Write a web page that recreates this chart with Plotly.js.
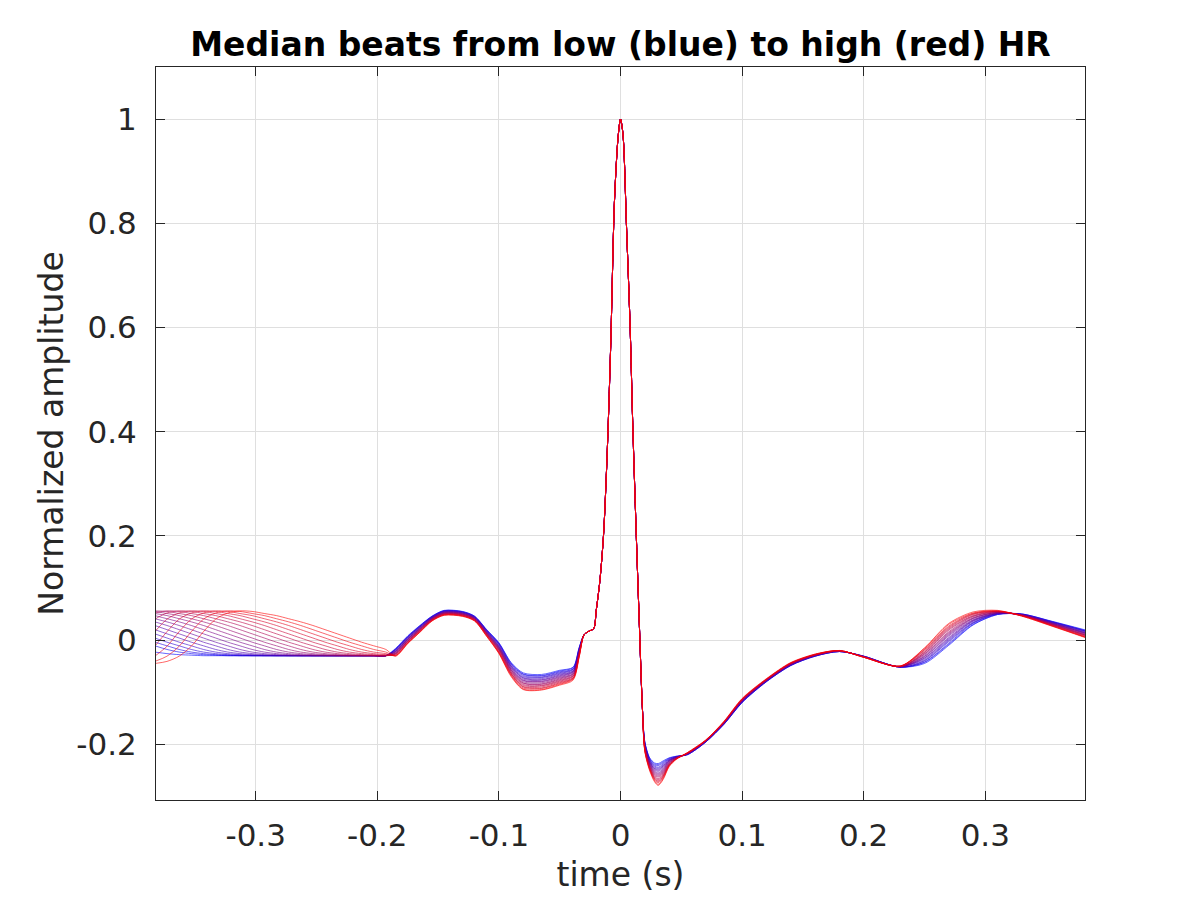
<!DOCTYPE html>
<html>
<head>
<meta charset="utf-8">
<script src="https://cdn.plot.ly/plotly-3.0.1.min.js"></script>
<style>
  html, body { margin: 0; padding: 0; background: #fff; }
  #chart { width: 1200px; height: 900px; }
</style>
</head>
<body>
<div id="chart"></div>
<script>
// previous beat's T wave, sampled every 10 ms from t = -0.383 s
const tWave = [-0.045, -0.041, -0.031, -0.012, 0.016, 0.040, 0.052, 0.056, 0.055, 0.051,
               0.047, 0.041, 0.035, 0.028, 0.020, 0.012, 0.004, -0.004, -0.011, -0.018,
               -0.023, -0.026, -0.028, -0.029, -0.030, -0.030, -0.030, -0.030, -0.030, -0.030,
               -0.030, -0.030, -0.030, -0.030, -0.030, -0.030, -0.030, -0.030, -0.030, -0.030]
// how far (in 10 ms samples) that T wave sits left of the window, low HR -> high HR
const tWaveLag = [20, 18, 17, 16, 15, 14, 13, 12, 11, 10, 9, 8, 7, 6, 5, 4, 3, 2, 1, 0]

const preTime = [-0.383, -0.373, -0.363, -0.353, -0.343, -0.333, -0.323, -0.313, -0.303, -0.293,
                 -0.283, -0.273, -0.263, -0.253, -0.243, -0.233, -0.223, -0.213, -0.203, -0.193]

const midTime = [-0.185, -0.175, -0.165, -0.155, -0.145, -0.130, -0.120, -0.110, -0.100, -0.090,
                 -0.080, -0.065, -0.050, -0.039, -0.034]
const midBeats = [
    [-0.016, 0.008, 0.028, 0.046, 0.057, 0.055, 0.046, 0.020, -0.005, -0.043, -0.063, -0.066, -0.058, -0.052, -0.014],
    [-0.017, 0.007, 0.027, 0.0455, 0.0565, 0.0545, 0.0455, 0.019, -0.006, -0.044, -0.065, -0.068, -0.0595, -0.053, -0.015],
    [-0.018, 0.006, 0.027, 0.045, 0.056, 0.054, 0.045, 0.019, -0.007, -0.046, -0.066, -0.069, -0.061, -0.055, -0.016],
    [-0.018, 0.006, 0.026, 0.0445, 0.0555, 0.0535, 0.0445, 0.018, -0.008, -0.047, -0.068, -0.071, -0.0625, -0.056, -0.017],
    [-0.019, 0.005, 0.025, 0.044, 0.055, 0.053, 0.044, 0.017, -0.009, -0.049, -0.070, -0.072, -0.064, -0.057, -0.018],
    [-0.020, 0.004, 0.025, 0.0435, 0.0545, 0.0525, 0.0435, 0.017, -0.011, -0.050, -0.072, -0.074, -0.0655, -0.059, -0.019],
    [-0.021, 0.003, 0.024, 0.043, 0.054, 0.052, 0.043, 0.016, -0.012, -0.051, -0.073, -0.076, -0.067, -0.060, -0.020],
    [-0.022, 0.002, 0.023, 0.0425, 0.0535, 0.0515, 0.0425, 0.015, -0.013, -0.053, -0.075, -0.077, -0.0685, -0.061, -0.021],
    [-0.022, 0.002, 0.022, 0.042, 0.053, 0.051, 0.042, 0.014, -0.014, -0.054, -0.077, -0.079, -0.070, -0.062, -0.022],
    [-0.023, 0.001, 0.022, 0.0415, 0.0525, 0.0505, 0.0415, 0.014, -0.015, -0.056, -0.078, -0.080, -0.0715, -0.064, -0.023],
    [-0.024, 0.000, 0.021, 0.041, 0.052, 0.050, 0.041, 0.013, -0.016, -0.057, -0.080, -0.082, -0.073, -0.065, -0.024],
    [-0.025, -0.001, 0.020, 0.0405, 0.0515, 0.0495, 0.0405, 0.012, -0.017, -0.058, -0.082, -0.084, -0.0745, -0.066, -0.025],
    [-0.026, -0.002, 0.020, 0.040, 0.051, 0.049, 0.040, 0.012, -0.018, -0.060, -0.083, -0.085, -0.076, -0.068, -0.026],
    [-0.026, -0.002, 0.019, 0.0395, 0.0505, 0.0485, 0.0395, 0.011, -0.019, -0.061, -0.085, -0.087, -0.0775, -0.069, -0.027],
    [-0.027, -0.003, 0.018, 0.039, 0.050, 0.048, 0.039, 0.010, -0.020, -0.063, -0.087, -0.088, -0.079, -0.070, -0.028],
    [-0.028, -0.004, 0.018, 0.0385, 0.0495, 0.0475, 0.0385, 0.010, -0.022, -0.064, -0.089, -0.090, -0.0805, -0.072, -0.029],
    [-0.029, -0.005, 0.017, 0.038, 0.049, 0.047, 0.038, 0.009, -0.023, -0.065, -0.090, -0.092, -0.082, -0.073, -0.030],
    [-0.030, -0.006, 0.016, 0.0375, 0.0485, 0.0465, 0.0375, 0.008, -0.024, -0.067, -0.092, -0.093, -0.0835, -0.074, -0.031],
    [-0.030, -0.006, 0.015, 0.037, 0.048, 0.046, 0.037, 0.007, -0.025, -0.068, -0.094, -0.095, -0.085, -0.075, -0.032],
    [-0.031, -0.007, 0.015, 0.0365, 0.0475, 0.0455, 0.0365, 0.007, -0.026, -0.070, -0.095, -0.096, -0.0865, -0.077, -0.033]
]

// QRS complex, the same for every beat
const qrsTime = [-0.030, -0.026, -0.022, -0.020, -0.017, -0.014, -0.011, -0.008, -0.005, -0.002,
                 0, 0.002, 0.005, 0.008, 0.010, 0.013, 0.0155, 0.018]
const qrsAmp = [0.010, 0.017, 0.022, 0.056, 0.113, 0.200, 0.355, 0.570, 0.840, 0.965,
                1.000, 0.972, 0.790, 0.595, 0.420, 0.200, 0.030, -0.130]

const postTime = [0.020, 0.024, 0.028, 0.031, 0.035, 0.040, 0.046, 0.055, 0.070, 0.085,
                  0.100, 0.120, 0.140, 0.160, 0.180, 0.200, 0.230, 0.250, 0.270, 0.290,
                  0.310, 0.330, 0.355, 0.383]
const postBeats = [
    [-0.195, -0.226, -0.236, -0.237, -0.232, -0.226, -0.223, -0.220, -0.196, -0.162, -0.120, -0.080, -0.049, -0.031, -0.022, -0.031, -0.052, -0.045, -0.010, 0.029, 0.049, 0.050, 0.036, 0.019],
    [-0.196, -0.227, -0.238, -0.239, -0.234, -0.227, -0.223, -0.220, -0.196, -0.162, -0.120, -0.080, -0.049, -0.031, -0.022, -0.031, -0.052, -0.043, -0.008, 0.030, 0.049, 0.050, 0.0355, 0.018],
    [-0.197, -0.229, -0.240, -0.241, -0.236, -0.228, -0.224, -0.220, -0.196, -0.161, -0.119, -0.079, -0.048, -0.031, -0.022, -0.031, -0.052, -0.042, -0.006, 0.032, 0.050, 0.050, 0.035, 0.017],
    [-0.198, -0.230, -0.242, -0.244, -0.238, -0.229, -0.224, -0.219, -0.195, -0.161, -0.119, -0.079, -0.048, -0.030, -0.022, -0.031, -0.052, -0.040, -0.003, 0.033, 0.050, 0.049, 0.0345, 0.017],
    [-0.199, -0.231, -0.244, -0.246, -0.240, -0.230, -0.224, -0.219, -0.195, -0.161, -0.118, -0.079, -0.048, -0.030, -0.022, -0.031, -0.052, -0.039, -0.001, 0.034, 0.051, 0.049, 0.034, 0.016],
    [-0.200, -0.233, -0.246, -0.248, -0.242, -0.231, -0.225, -0.219, -0.195, -0.161, -0.118, -0.079, -0.048, -0.030, -0.021, -0.032, -0.051, -0.037, 0.001, 0.036, 0.051, 0.049, 0.0335, 0.015],
    [-0.201, -0.234, -0.247, -0.250, -0.243, -0.231, -0.225, -0.219, -0.195, -0.160, -0.118, -0.078, -0.047, -0.030, -0.021, -0.032, -0.051, -0.035, 0.003, 0.037, 0.051, 0.049, 0.033, 0.014],
    [-0.202, -0.235, -0.249, -0.252, -0.245, -0.232, -0.225, -0.219, -0.195, -0.160, -0.117, -0.078, -0.047, -0.030, -0.021, -0.032, -0.051, -0.034, 0.005, 0.038, 0.052, 0.049, 0.0325, 0.013],
    [-0.203, -0.236, -0.251, -0.255, -0.247, -0.233, -0.225, -0.218, -0.194, -0.160, -0.117, -0.078, -0.047, -0.029, -0.021, -0.032, -0.051, -0.032, 0.008, 0.039, 0.052, 0.048, 0.032, 0.013],
    [-0.204, -0.238, -0.253, -0.257, -0.249, -0.234, -0.226, -0.218, -0.194, -0.159, -0.116, -0.077, -0.046, -0.029, -0.021, -0.032, -0.051, -0.031, 0.010, 0.041, 0.053, 0.048, 0.0315, 0.012],
    [-0.205, -0.239, -0.255, -0.259, -0.251, -0.235, -0.226, -0.218, -0.194, -0.159, -0.116, -0.077, -0.046, -0.029, -0.021, -0.032, -0.051, -0.029, 0.012, 0.042, 0.053, 0.048, 0.031, 0.011],
    [-0.206, -0.240, -0.257, -0.261, -0.253, -0.236, -0.226, -0.218, -0.194, -0.159, -0.116, -0.077, -0.046, -0.029, -0.021, -0.032, -0.051, -0.027, 0.014, 0.043, 0.053, 0.048, 0.0305, 0.010],
    [-0.207, -0.242, -0.259, -0.263, -0.255, -0.237, -0.227, -0.218, -0.194, -0.158, -0.115, -0.076, -0.045, -0.029, -0.021, -0.032, -0.051, -0.026, 0.016, 0.045, 0.054, 0.048, 0.030, 0.009],
    [-0.208, -0.243, -0.261, -0.266, -0.257, -0.238, -0.227, -0.217, -0.193, -0.158, -0.115, -0.076, -0.045, -0.028, -0.021, -0.032, -0.051, -0.024, 0.019, 0.046, 0.054, 0.047, 0.0295, 0.009],
    [-0.209, -0.244, -0.263, -0.268, -0.259, -0.239, -0.227, -0.217, -0.193, -0.158, -0.114, -0.076, -0.045, -0.028, -0.021, -0.032, -0.051, -0.023, 0.021, 0.047, 0.055, 0.047, 0.029, 0.008],
    [-0.210, -0.246, -0.265, -0.270, -0.261, -0.240, -0.228, -0.217, -0.193, -0.158, -0.114, -0.076, -0.045, -0.028, -0.020, -0.033, -0.050, -0.021, 0.023, 0.049, 0.055, 0.047, 0.0285, 0.007],
    [-0.211, -0.247, -0.266, -0.272, -0.262, -0.240, -0.228, -0.217, -0.193, -0.157, -0.114, -0.075, -0.044, -0.028, -0.020, -0.033, -0.050, -0.019, 0.025, 0.050, 0.055, 0.047, 0.028, 0.006],
    [-0.212, -0.248, -0.268, -0.274, -0.264, -0.241, -0.228, -0.217, -0.193, -0.157, -0.113, -0.075, -0.044, -0.028, -0.020, -0.033, -0.050, -0.018, 0.027, 0.051, 0.056, 0.047, 0.0275, 0.005],
    [-0.213, -0.249, -0.270, -0.277, -0.266, -0.242, -0.228, -0.216, -0.192, -0.157, -0.113, -0.075, -0.044, -0.027, -0.020, -0.033, -0.050, -0.016, 0.030, 0.052, 0.056, 0.046, 0.027, 0.005],
    [-0.214, -0.251, -0.272, -0.279, -0.268, -0.243, -0.229, -0.216, -0.192, -0.156, -0.112, -0.074, -0.043, -0.027, -0.020, -0.033, -0.050, -0.015, 0.032, 0.054, 0.057, 0.046, 0.0265, 0.004]
]

const xTicks = [-0.3, -0.2, -0.1, 0, 0.1, 0.2, 0.3]
const xTickText = ['-0.3', '-0.2', '-0.1', '0', '0.1', '0.2', '0.3']
const yTicks = [-0.2, 0, 0.2, 0.4, 0.6, 0.8, 1]
const yTickText = ['-0.2', '0', '0.2', '0.4', '0.6', '0.8', '1']

const nBeats = midBeats.length
const time = preTime.concat(midTime, qrsTime, postTime)

let traces = []
for (let k = 0; k < nBeats; k++) {
    const lag = tWaveLag[k]
    const amp = tWave.slice(lag, lag + preTime.length)
        .concat(midBeats[k], qrsAmp, postBeats[k])
    const f = k / (nBeats - 1)
    traces.push({
        x: time,
        y: amp,
        mode: 'lines',
        line: {
            color: `rgb(${Math.round(255 * f)},0,${Math.round(255 * (1 - f))})`,
            width: 0.8,
            shape: 'spline',
            smoothing: 0.8,
        },
        opacity: 0.75,
        hoverinfo: 'skip',
    })
}

const axisStyle = {
    ticks: 'inside',
    ticklen: 9,
    tickwidth: 1,
    tickcolor: '#262626',
    showline: true,
    linecolor: '#262626',
    linewidth: 1,
    mirror: 'ticks',
    showgrid: true,
    gridcolor: '#dfdfdf',
    gridwidth: 1,
    zeroline: false,
    tickfont: { family: 'DejaVu Sans', size: 31, color: '#262626' },
}

const layout = {
    width: 1200,
    height: 900,
    paper_bgcolor: '#ffffff',
    plot_bgcolor: '#ffffff',
    showlegend: false,
    margin: { l: 156, r: 115, t: 67, b: 100 },
    title: {
        text: 'Median beats from low (blue) to high (red) HR',
        font: { family: 'DejaVu Sans', size: 33, weight: 'bold', color: '#000000' },
        x: 0.5,
        xref: 'paper',
        y: 1 - 44 / 900,
        yref: 'container',
        yanchor: 'middle',
    },
    xaxis: Object.assign({}, axisStyle, {
        range: [-0.382, 0.382],
        tickvals: xTicks,
        ticktext: xTickText,
        ticklabelstandoff: 8,
        title: { text: 'time (s)', font: { family: 'DejaVu Sans', size: 33, color: '#262626' }, standoff: 10 },
    }),
    yaxis: Object.assign({}, axisStyle, {
        range: [-0.307, 1.1],
        tickvals: yTicks,
        ticktext: yTickText,
        ticklabelstandoff: 12,
        title: { text: 'Normalized amplitude', font: { family: 'DejaVu Sans', size: 33, color: '#262626' }, standoff: 2 },
    }),
}

Plotly.newPlot('chart', traces, layout, { displayModeBar: false, staticPlot: true })
</script>
</body>
</html>
